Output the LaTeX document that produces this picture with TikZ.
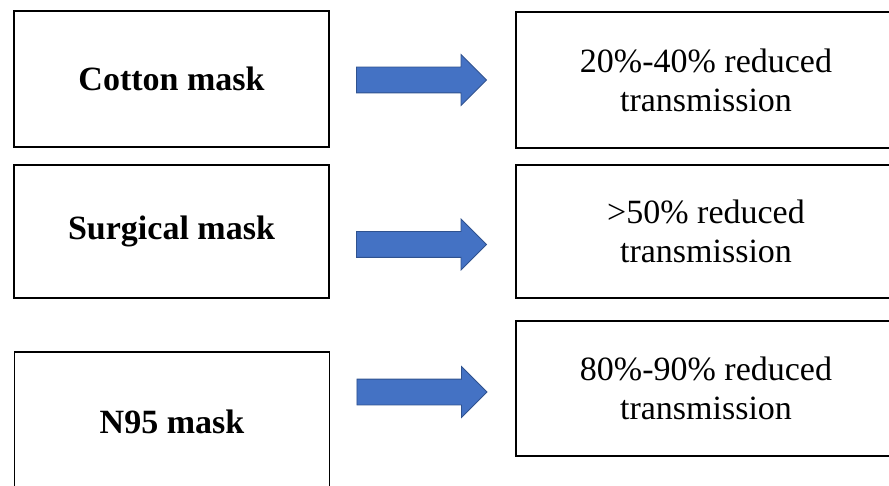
\documentclass[tikz,border=0pt]{standalone}
\usepackage{fontspec}
\setmainfont{Liberation Serif}
\usetikzlibrary{shapes.arrows}
\definecolor{arrowfill}{HTML}{4472C4}
\definecolor{arrowline}{HTML}{2F528F}
\begin{document}
\begin{tikzpicture}[x=1pt,y=-1pt,
  maskbox/.style={draw=black,line width=1.8pt,fill=white,minimum width=315pt,inner sep=0pt,
    font=\fontsize{34}{39}\selectfont\bfseries,align=center},
  resbox/.style={draw=black,line width=1.8pt,fill=white,minimum width=380pt,minimum height=136pt,inner sep=0pt,
    font=\fontsize{34}{39}\selectfont,align=center},
  bluearrow/.style={single arrow,draw=arrowline,line width=0.8pt,fill=arrowfill,
    minimum height=130pt,inner sep=0pt,text height=12.5pt,text depth=12.5pt,text width=0pt,
    single arrow head extend=12.5pt,single arrow tip angle=90}
]
\useasboundingbox (0,0) rectangle (889,486);
% left boxes
\node[maskbox,minimum height=136pt] (cotton) at (171.5,79) {Cotton mask};
\node[maskbox,minimum height=133pt] (surgical) at (171.5,231.5) {Surgical mask};
\node[maskbox,minimum height=140pt] (n95) at (172,422) {N95 mask};
% right boxes
\node[resbox] (r1) at (706,80) {20\%-40\% reduced\\transmission};
\node[resbox,minimum height=133pt] (r2) at (706,231.5) {>50\% reduced\\transmission};
\node[resbox,minimum height=135pt] (r3) at (706,388.5) {80\%-90\% reduced\\transmission};
% arrows
\node[bluearrow] (a1) at (415,80) {};
\node[bluearrow] (a2) at (415,244.5) {};
\node[bluearrow] (a3) at (415.5,392) {};
\end{tikzpicture}
\end{document}
